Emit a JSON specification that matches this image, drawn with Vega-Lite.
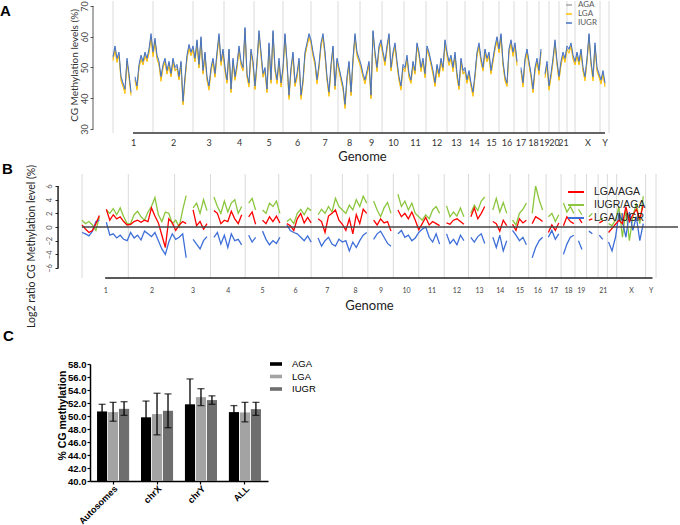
{
"$schema":"https://vega.github.io/schema/vega-lite/v6.json",
"padding":0,
"spacing":41,
"bounds":"flush",
"resolve":{"scale":{"color":"independent"},"legend":{"color":"independent"}},
"config":{"view":{"stroke":null},"axis":{"grid":false,"labelOverlap":false,"tickCount":40},"title":{"font":"Liberation Sans","fontSize":15,"fontWeight":"bold","color":"#000","anchor":"start","frame":"group","offset":0,"baseline":"alphabetic"}},
"datasets":{
"bnd":[{"u":0},{"u":40},{"u":80},{"u":111},{"u":141},{"u":170},{"u":198},{"u":225},{"u":247},{"u":269},{"u":291},{"u":313},{"u":334},{"u":352},{"u":370},{"u":386},{"u":401},{"u":414},{"u":426},{"u":436},{"u":446},{"u":454},{"u":462},{"u":487},{"u":496}],
"a":[
{"p":0,"a":52.9,"l":52.2,"i":53.5},{"p":2,"a":56.1,"l":55.6,"i":57},{"p":4,"a":52.5,"l":51.6,"i":53},{"p":6,"a":54.2,"l":53.9,"i":55},{"p":8,"a":46.5,"l":45.6,"i":47},{"p":10,"a":44.1,"l":43.8,"i":45},{"p":12,"a":42.6,"l":41.5,"i":43},{"p":14,"a":52.1,"l":51.9,"i":53},{"p":16,"a":47.4,"l":46.6,"i":48},{"p":18,"a":41.5,"l":40.9,"i":42},{"p":20,"a":null,"l":null,"i":null},{"p":22,"a":46.2,"l":45.8,"i":47},{"p":24,"a":43.5,"l":42.6,"i":44},{"p":26,"a":50.2,"l":49.9,"i":51},{"p":28,"a":53.4,"l":52.5,"i":54},{"p":30,"a":51.2,"l":50.8,"i":52},{"p":32,"a":54.5,"l":53.6,"i":55},{"p":34,"a":52.1,"l":51.9,"i":53},{"p":36,"a":55.4,"l":54.6,"i":56},{"p":38,"a":60.1,"l":59.7,"i":61},
{"p":40,"a":54.4,"l":53.5,"i":55},{"p":42,"a":58.6,"l":58.3,"i":59.5},{"p":44,"a":53.5,"l":52.6,"i":54},{"p":46,"a":51.1,"l":50.8,"i":52},{"p":48,"a":46.4,"l":45.5,"i":47},{"p":50,"a":50.2,"l":49.8,"i":51},{"p":52,"a":52.5,"l":51.6,"i":53},{"p":54,"a":48.1,"l":47.8,"i":49},{"p":56,"a":51.4,"l":50.6,"i":52},{"p":58,"a":47.2,"l":46.9,"i":48},{"p":60,"a":52.5,"l":51.6,"i":53},{"p":62,"a":49.1,"l":48.8,"i":50},{"p":64,"a":50.4,"l":49.5,"i":51},{"p":66,"a":46.2,"l":45.9,"i":47},{"p":68,"a":51.5,"l":50.6,"i":52},{"p":70,"a":38.3,"l":37.8,"i":39},{"p":72,"a":46.4,"l":45.6,"i":47},{"p":74,"a":53.1,"l":52.8,"i":54},{"p":76,"a":56.9,"l":56.1,"i":57.5},{"p":78,"a":54.2,"l":53.8,"i":55},
{"p":80,"a":56.4,"l":55.6,"i":57},{"p":82,"a":52.2,"l":51.8,"i":53},{"p":84,"a":58.5,"l":57.6,"i":59},{"p":86,"a":50.1,"l":49.8,"i":51},{"p":88,"a":59.4,"l":58.6,"i":60},{"p":90,"a":48.2,"l":47.8,"i":49},{"p":92,"a":54.5,"l":53.6,"i":55},{"p":94,"a":46.1,"l":45.8,"i":47},{"p":96,"a":43.4,"l":42.6,"i":44},{"p":98,"a":49.2,"l":48.8,"i":50},{"p":100,"a":52.5,"l":51.6,"i":53},{"p":102,"a":47.1,"l":46.8,"i":48},{"p":104,"a":54.4,"l":53.6,"i":55},{"p":106,"a":60.2,"l":59.8,"i":61},{"p":108,"a":51.5,"l":50.6,"i":52},{"p":110,"a":55.1,"l":54.8,"i":56},
{"p":112,"a":49.4,"l":48.6,"i":50},{"p":114,"a":45.2,"l":44.8,"i":46},{"p":116,"a":55.5,"l":54.6,"i":56},{"p":118,"a":42.1,"l":41.8,"i":43},{"p":120,"a":52.4,"l":51.6,"i":53},{"p":122,"a":46.2,"l":45.8,"i":47},{"p":124,"a":50.5,"l":49.6,"i":51},{"p":126,"a":56.1,"l":55.8,"i":57},{"p":128,"a":51.4,"l":50.6,"i":52},{"p":130,"a":49.2,"l":48.8,"i":50},{"p":132,"a":62.5,"l":61.6,"i":63},{"p":134,"a":47.1,"l":46.8,"i":48},{"p":136,"a":44.4,"l":43.6,"i":45},{"p":138,"a":55.2,"l":54.8,"i":56},{"p":140,"a":51.5,"l":50.6,"i":52},
{"p":142,"a":43.1,"l":42.8,"i":44},{"p":144,"a":51.4,"l":50.6,"i":52},{"p":146,"a":61.2,"l":60.8,"i":62},{"p":148,"a":54.5,"l":53.6,"i":55},{"p":150,"a":47.1,"l":46.8,"i":48},{"p":152,"a":49.4,"l":48.6,"i":50},{"p":154,"a":42.2,"l":41.8,"i":43},{"p":156,"a":57.5,"l":56.6,"i":58},{"p":158,"a":45.1,"l":44.8,"i":46},{"p":160,"a":61.4,"l":60.6,"i":62},{"p":162,"a":49.2,"l":48.8,"i":50},{"p":164,"a":45.5,"l":44.6,"i":46},{"p":166,"a":52.1,"l":51.8,"i":53},{"p":168,"a":44.4,"l":43.6,"i":45},
{"p":170,"a":49.2,"l":48.8,"i":50},{"p":172,"a":60.5,"l":59.6,"i":61},{"p":174,"a":51.1,"l":50.8,"i":52},{"p":176,"a":40.4,"l":39.6,"i":41},{"p":178,"a":49.2,"l":48.8,"i":50},{"p":180,"a":54.5,"l":53.6,"i":55},{"p":182,"a":44.1,"l":43.8,"i":45},{"p":184,"a":47.4,"l":46.6,"i":48},{"p":186,"a":52.2,"l":51.8,"i":53},{"p":188,"a":40.5,"l":39.6,"i":41},{"p":190,"a":45.1,"l":44.8,"i":46},{"p":192,"a":54.4,"l":53.6,"i":55},{"p":194,"a":57.2,"l":56.8,"i":58},{"p":196,"a":60.5,"l":59.6,"i":61},
{"p":198,"a":58.1,"l":57.8,"i":59},{"p":200,"a":54.4,"l":53.6,"i":55},{"p":202,"a":51.2,"l":50.8,"i":52},{"p":204,"a":45.5,"l":44.6,"i":46},{"p":206,"a":50.1,"l":49.8,"i":51},{"p":208,"a":57.4,"l":56.6,"i":58},{"p":210,"a":60.2,"l":59.8,"i":61},{"p":212,"a":54.5,"l":53.6,"i":55},{"p":214,"a":46.1,"l":45.8,"i":47},{"p":216,"a":41.4,"l":40.6,"i":42},{"p":218,"a":50.2,"l":49.8,"i":51},{"p":220,"a":56.5,"l":55.6,"i":57},{"p":222,"a":43.1,"l":42.8,"i":44},{"p":224,"a":52.4,"l":51.6,"i":53},
{"p":226,"a":49.2,"l":48.8,"i":50},{"p":228,"a":46.5,"l":45.6,"i":47},{"p":230,"a":43.1,"l":42.8,"i":44},{"p":232,"a":37.4,"l":36.6,"i":38},{"p":234,"a":46.2,"l":45.8,"i":47},{"p":236,"a":51.5,"l":50.6,"i":52},{"p":238,"a":41.1,"l":40.8,"i":42},{"p":240,"a":52.4,"l":51.6,"i":53},{"p":242,"a":60.2,"l":59.8,"i":61},{"p":244,"a":54.5,"l":53.6,"i":55},{"p":246,"a":52.1,"l":51.8,"i":53},
{"p":248,"a":50.4,"l":49.6,"i":51},{"p":250,"a":47.2,"l":46.8,"i":48},{"p":252,"a":45.5,"l":44.6,"i":46},{"p":254,"a":48.1,"l":47.8,"i":49},{"p":256,"a":51.4,"l":50.6,"i":52},{"p":258,"a":40.2,"l":39.8,"i":41},{"p":260,"a":61.5,"l":60.6,"i":62},{"p":262,"a":54.1,"l":53.8,"i":55},{"p":264,"a":49.4,"l":48.6,"i":50},{"p":266,"a":56.2,"l":55.8,"i":57},{"p":268,"a":58.5,"l":57.6,"i":59},
{"p":270,"a":54.1,"l":53.8,"i":55},{"p":272,"a":51.4,"l":50.6,"i":52},{"p":274,"a":56.2,"l":55.8,"i":57},{"p":276,"a":60.5,"l":59.6,"i":61},{"p":278,"a":49.1,"l":48.8,"i":50},{"p":280,"a":54.4,"l":53.6,"i":55},{"p":282,"a":57.2,"l":56.8,"i":58},{"p":284,"a":51.5,"l":50.6,"i":52},{"p":286,"a":46.1,"l":45.8,"i":47},{"p":288,"a":43.4,"l":42.6,"i":44},{"p":290,"a":50.2,"l":49.8,"i":51},
{"p":292,"a":49.5,"l":48.6,"i":50},{"p":294,"a":53.1,"l":52.8,"i":54},{"p":296,"a":47.4,"l":46.6,"i":48},{"p":298,"a":45.2,"l":44.8,"i":46},{"p":300,"a":51.5,"l":50.6,"i":52},{"p":302,"a":48.1,"l":47.8,"i":49},{"p":304,"a":57.4,"l":56.6,"i":58},{"p":306,"a":54.2,"l":53.8,"i":55},{"p":308,"a":49.5,"l":48.6,"i":50},{"p":310,"a":52.1,"l":51.8,"i":53},{"p":312,"a":47.4,"l":46.6,"i":48},
{"p":314,"a":56.2,"l":55.8,"i":57},{"p":316,"a":54.5,"l":53.6,"i":55},{"p":318,"a":51.1,"l":50.8,"i":52},{"p":320,"a":48.4,"l":47.6,"i":49},{"p":322,"a":44.2,"l":43.8,"i":45},{"p":324,"a":50.5,"l":49.6,"i":51},{"p":326,"a":47.1,"l":46.8,"i":48},{"p":328,"a":52.4,"l":51.6,"i":53},{"p":330,"a":49.2,"l":48.8,"i":50},{"p":332,"a":58.5,"l":57.6,"i":59},{"p":334,"a":54.1,"l":53.8,"i":55},
{"p":336,"a":51.4,"l":50.6,"i":52},{"p":338,"a":53.2,"l":52.8,"i":54},{"p":340,"a":49.5,"l":48.6,"i":50},{"p":342,"a":54.1,"l":53.8,"i":55},{"p":344,"a":47.4,"l":46.6,"i":48},{"p":346,"a":43.2,"l":42.8,"i":44},{"p":348,"a":52.5,"l":51.6,"i":53},{"p":350,"a":48.1,"l":47.8,"i":49},{"p":352,"a":49.4,"l":48.6,"i":50},
{"p":354,"a":45.2,"l":44.8,"i":46},{"p":356,"a":48.5,"l":47.6,"i":49},{"p":358,"a":44.1,"l":43.8,"i":45},{"p":360,"a":41.4,"l":40.6,"i":42},{"p":362,"a":47.2,"l":46.8,"i":48},{"p":364,"a":54.5,"l":53.6,"i":55},{"p":366,"a":57.1,"l":56.8,"i":58},{"p":368,"a":52.4,"l":51.6,"i":53},{"p":370,"a":49.2,"l":48.8,"i":50},
{"p":372,"a":55.5,"l":54.6,"i":56},{"p":374,"a":52.1,"l":51.8,"i":53},{"p":376,"a":54.4,"l":53.6,"i":55},{"p":378,"a":48.2,"l":47.8,"i":49},{"p":380,"a":52.5,"l":51.6,"i":53},{"p":382,"a":56.1,"l":55.8,"i":57},{"p":384,"a":59.4,"l":58.6,"i":60},{"p":386,"a":55.2,"l":54.8,"i":56},
{"p":388,"a":60.5,"l":59.6,"i":61},{"p":390,"a":51.1,"l":50.8,"i":52},{"p":392,"a":46.4,"l":45.6,"i":47},{"p":394,"a":44.2,"l":43.8,"i":45},{"p":396,"a":55.5,"l":54.6,"i":56},{"p":398,"a":58.1,"l":57.8,"i":59},{"p":400,"a":54.4,"l":53.6,"i":55},
{"p":402,"a":57.2,"l":56.8,"i":58},{"p":404,"a":51.5,"l":50.6,"i":52},{"p":406,"a":null,"l":null,"i":null},{"p":408,"a":49.1,"l":48.8,"i":50},{"p":410,"a":44.4,"l":43.6,"i":45},{"p":412,"a":52.2,"l":51.8,"i":53},{"p":414,"a":55.5,"l":54.6,"i":56},
{"p":416,"a":51.1,"l":50.8,"i":52},{"p":418,"a":47.4,"l":46.6,"i":48},{"p":420,"a":42.2,"l":41.8,"i":43},{"p":422,"a":49.5,"l":48.6,"i":50},{"p":424,"a":52.1,"l":51.8,"i":53},{"p":426,"a":48.4,"l":47.6,"i":49},
{"p":428,"a":55.2,"l":54.8,"i":56},{"p":430,"a":null,"l":null,"i":null},{"p":432,"a":47.5,"l":46.6,"i":48},{"p":434,"a":51.1,"l":50.8,"i":52},{"p":436,"a":43.4,"l":42.6,"i":44},
{"p":438,"a":47.2,"l":46.8,"i":48},{"p":440,"a":52.5,"l":51.6,"i":53},{"p":442,"a":58.1,"l":57.8,"i":59},{"p":444,"a":51.4,"l":50.6,"i":52},{"p":446,"a":46.2,"l":45.8,"i":47},
{"p":448,"a":51.5,"l":50.6,"i":52},{"p":450,"a":54.1,"l":53.8,"i":55},{"p":452,"a":52.4,"l":51.6,"i":53},{"p":454,"a":56.2,"l":55.8,"i":57},
{"p":456,"a":55.5,"l":54.6,"i":56},{"p":458,"a":57.1,"l":56.8,"i":58},{"p":460,"a":53.4,"l":52.6,"i":54},{"p":462,"a":51.2,"l":50.8,"i":52},
{"p":464,"a":54.5,"l":53.6,"i":55},{"p":466,"a":51.1,"l":50.8,"i":52},{"p":468,"a":55.4,"l":54.6,"i":56},{"p":470,"a":49.2,"l":48.8,"i":50},{"p":472,"a":46.5,"l":45.6,"i":47},{"p":474,"a":52.1,"l":51.8,"i":53},{"p":476,"a":60.4,"l":59.6,"i":61},{"p":478,"a":51.2,"l":50.8,"i":52},{"p":480,"a":46.5,"l":45.6,"i":47},{"p":482,"a":57.1,"l":56.8,"i":58},{"p":484,"a":49.4,"l":48.6,"i":50},{"p":486,"a":47.2,"l":46.8,"i":48},
{"p":488,"a":45.5,"l":44.6,"i":46},{"p":490,"a":48.1,"l":47.8,"i":49},{"p":492,"a":44.4,"l":43.6,"i":45}
],
"b":[
{"p":0,"r":0.3,"g":1.0,"b":-0.8},{"p":3,"r":-0.3,"g":0.5,"b":-1.0},{"p":6,"r":-0.8,"g":0.8,"b":-1.3},{"p":9,"r":-0.5,"g":0.3,"b":-0.6},{"p":12,"r":0.5,"g":-0.5,"b":0.8},{"p":15,"r":1.7,"g":1.5,"b":1.0},{"p":18,"r":null,"g":null,"b":null},
{"p":21,"r":2.6,"g":2.5,"b":0.7},{"p":24,"r":1.0,"g":2.0,"b":-1.2},{"p":27,"r":1.8,"g":2.7,"b":-1.0},{"p":30,"r":1.2,"g":1.8,"b":-1.6},{"p":33,"r":1.5,"g":2.8,"b":-1.2},{"p":36,"r":0.8,"g":1.5,"b":-1.8},{"p":39,"r":0.3,"g":0.5,"b":-2.0},
{"p":42,"r":0.4,"g":0.5,"b":-0.8},{"p":45,"r":0.8,"g":1.8,"b":-1.6},{"p":48,"r":1.0,"g":2.3,"b":-1.2},{"p":51,"r":0.7,"g":1.5,"b":-1.9},{"p":54,"r":1.0,"g":1.0,"b":-0.6},{"p":57,"r":0.8,"g":2.2,"b":-1.0},{"p":60,"r":2.8,"g":3.0,"b":-1.4},{"p":63,"r":1.6,"g":4.3,"b":-0.8},{"p":66,"r":0.6,"g":1.8,"b":-2.0},{"p":69,"r":-1.2,"g":0.8,"b":-3.2},{"p":72,"r":-3.0,"g":2.2,"b":-4.0},{"p":75,"r":1.2,"g":2.0,"b":-2.2},{"p":78,"r":0.6,"g":0.5,"b":-1.0},
{"p":81,"r":-0.5,"g":1.0,"b":-1.8},{"p":84,"r":0.3,"g":0.0,"b":-1.5},{"p":87,"r":0.8,"g":2.5,"b":-1.0},{"p":90,"r":0.5,"g":4.6,"b":-4.5},{"p":93,"r":null,"g":null,"b":null},{"p":96,"r":2.5,"g":2.8,"b":-1.8},{"p":99,"r":0.2,"g":3.5,"b":-2.5},{"p":102,"r":0.8,"g":2.0,"b":-3.2},{"p":105,"r":-0.3,"g":4.0,"b":-2.0},{"p":108,"r":0.5,"g":2.4,"b":-1.4},{"p":111,"r":null,"g":null,"b":null},
{"p":114,"r":2.4,"g":4.4,"b":-1.5},{"p":117,"r":2.0,"g":3.0,"b":-0.8},{"p":120,"r":0.5,"g":2.0,"b":-2.5},{"p":123,"r":1.0,"g":3.8,"b":-1.2},{"p":126,"r":0.8,"g":2.2,"b":-3.0},{"p":129,"r":2.3,"g":3.5,"b":-1.0},{"p":132,"r":1.2,"g":4.0,"b":-2.0},{"p":135,"r":0.5,"g":2.0,"b":-1.8},{"p":138,"r":1.8,"g":3.0,"b":-2.6},{"p":141,"r":null,"g":null,"b":null},
{"p":144,"r":1.5,"g":3.5,"b":-1.2},{"p":147,"r":2.2,"g":4.2,"b":-2.2},{"p":150,"r":0.4,"g":2.5,"b":-1.5},{"p":153,"r":null,"g":null,"b":null},{"p":156,"r":1.0,"g":2.5,"b":-0.6},{"p":159,"r":0.5,"g":2.0,"b":-1.8},{"p":162,"r":1.5,"g":3.5,"b":-2.6},{"p":165,"r":0.8,"g":3.0,"b":-2.0},{"p":168,"r":1.6,"g":3.8,"b":-2.4},{"p":171,"r":0.6,"g":2.0,"b":-1.5},{"p":174,"r":null,"g":null,"b":null},
{"p":177,"r":0.5,"g":0.8,"b":0.3},{"p":180,"r":0.2,"g":1.2,"b":-0.5},{"p":183,"r":-0.5,"g":0.5,"b":-0.8},{"p":186,"r":1.2,"g":2.0,"b":-1.0},{"p":189,"r":2.0,"g":2.6,"b":-1.5},{"p":192,"r":0.6,"g":1.8,"b":-2.0},{"p":195,"r":1.4,"g":2.8,"b":-1.3},{"p":198,"r":0.6,"g":2.4,"b":-2.2},{"p":201,"r":null,"g":null,"b":null},
{"p":204,"r":1.2,"g":1.8,"b":-1.6},{"p":207,"r":0.8,"g":2.6,"b":-2.8},{"p":210,"r":-0.8,"g":2.0,"b":-2.0},{"p":213,"r":1.6,"g":3.0,"b":-1.5},{"p":216,"r":2.0,"g":2.2,"b":-2.5},{"p":219,"r":2.5,"g":4.2,"b":-2.8},{"p":222,"r":1.0,"g":3.0,"b":-1.8},{"p":225,"r":0.4,"g":2.5,"b":-2.2},
{"p":228,"r":-0.5,"g":2.0,"b":-2.0},{"p":231,"r":1.2,"g":3.2,"b":-3.5},{"p":234,"r":-1.0,"g":2.5,"b":-2.2},{"p":237,"r":1.8,"g":4.0,"b":-3.0},{"p":240,"r":0.5,"g":3.0,"b":-2.0},{"p":243,"r":2.6,"g":4.5,"b":-1.2},{"p":246,"r":2.0,"g":3.5,"b":-0.8},{"p":249,"r":null,"g":null,"b":null},
{"p":252,"r":1.0,"g":3.8,"b":-1.8},{"p":255,"r":0.3,"g":2.5,"b":-1.0},{"p":258,"r":1.2,"g":1.5,"b":-0.6},{"p":261,"r":0.6,"g":2.8,"b":-1.5},{"p":264,"r":0.8,"g":3.6,"b":-2.4},{"p":267,"r":-0.6,"g":2.0,"b":-2.8},{"p":270,"r":null,"g":null,"b":null},
{"p":273,"r":2.5,"g":4.8,"b":-1.0},{"p":276,"r":1.5,"g":3.0,"b":-0.5},{"p":279,"r":2.0,"g":3.8,"b":-1.5},{"p":282,"r":1.2,"g":2.5,"b":-1.2},{"p":285,"r":2.2,"g":3.5,"b":-2.0},{"p":288,"r":1.0,"g":2.0,"b":-1.6},{"p":291,"r":-0.4,"g":1.5,"b":-0.8},
{"p":294,"r":0.5,"g":1.0,"b":-0.3},{"p":297,"r":1.4,"g":1.8,"b":0.0},{"p":300,"r":0.3,"g":1.2,"b":-1.5},{"p":303,"r":0.8,"g":2.5,"b":-2.2},{"p":306,"r":0.5,"g":3.0,"b":-1.0},{"p":309,"r":0.2,"g":2.0,"b":-2.5},{"p":312,"r":null,"g":null,"b":null},
{"p":315,"r":0.6,"g":3.1,"b":-1.0},{"p":318,"r":0.4,"g":1.5,"b":-2.4},{"p":321,"r":1.0,"g":2.2,"b":-1.8},{"p":324,"r":1.2,"g":1.6,"b":-2.6},{"p":327,"r":0.8,"g":2.8,"b":-1.2},{"p":330,"r":0.4,"g":1.5,"b":-2.0},{"p":333,"r":null,"g":null,"b":null},
{"p":336,"r":1.5,"g":2.0,"b":-1.5},{"p":339,"r":2.8,"g":3.2,"b":-2.2},{"p":342,"r":1.2,"g":2.4,"b":-1.4},{"p":345,"r":2.0,"g":3.8,"b":-1.0},{"p":348,"r":3.0,"g":4.4,"b":-2.4},{"p":351,"r":null,"g":null,"b":null},
{"p":355,"r":0.8,"g":2.5,"b":-1.5},{"p":358,"r":0.5,"g":4.2,"b":-3.0},{"p":361,"r":-0.6,"g":2.2,"b":-1.2},{"p":364,"r":1.0,"g":3.6,"b":-3.5},{"p":367,"r":0.2,"g":2.0,"b":-2.0},{"p":370,"r":null,"g":null,"b":null},
{"p":372,"r":0.4,"g":1.0,"b":-0.5},{"p":375,"r":-0.5,"g":0.3,"b":-1.2},{"p":378,"r":1.2,"g":2.0,"b":-2.0},{"p":381,"r":0.6,"g":2.6,"b":-1.5},{"p":384,"r":1.0,"g":3.5,"b":-2.6},{"p":387,"r":null,"g":null,"b":null},
{"p":389,"r":0.5,"g":2.0,"b":-4.5},{"p":392,"r":1.5,"g":6.0,"b":-3.0},{"p":395,"r":1.2,"g":4.0,"b":-2.0},{"p":398,"r":0.8,"g":2.5,"b":-1.5},{"p":401,"r":null,"g":null,"b":null},
{"p":403,"r":-0.8,"g":1.5,"b":-1.5},{"p":406,"r":0.3,"g":2.0,"b":-0.5},{"p":409,"r":-0.5,"g":0.8,"b":-1.8},{"p":412,"r":0.6,"g":1.8,"b":-1.0},{"p":414,"r":null,"g":null,"b":null},
{"p":416,"r":0.2,"g":3.5,"b":-4.0},{"p":419,"r":1.5,"g":2.2,"b":-2.5},{"p":422,"r":0.8,"g":3.0,"b":-1.5},{"p":425,"r":0.5,"g":2.0,"b":-1.2},{"p":427,"r":null,"g":null,"b":null},
{"p":429,"r":1.4,"g":2.6,"b":-2.0},{"p":432,"r":0.6,"g":1.8,"b":-3.3},{"p":435,"r":null,"g":null,"b":null},
{"p":438,"r":1.0,"g":1.5,"b":-0.6},{"p":441,"r":1.2,"g":2.0,"b":-1.0},{"p":444,"r":null,"g":null,"b":null},
{"p":447,"r":0.6,"g":1.0,"b":-1.2},{"p":450,"r":0.9,"g":1.3,"b":-1.8},{"p":453,"r":null,"g":null,"b":null},
{"p":455,"r":-0.8,"g":0.5,"b":-2.2},{"p":458,"r":-0.2,"g":0.2,"b":-3.5},{"p":461,"r":0.4,"g":1.0,"b":-1.5},
{"p":464,"r":1.0,"g":3.0,"b":2.0},{"p":467,"r":0.5,"g":-1.5,"b":0.8},{"p":470,"r":3.0,"g":2.5,"b":-1.5},{"p":473,"r":0.8,"g":-2.0,"b":2.2},{"p":476,"r":1.8,"g":1.5,"b":-0.5},{"p":479,"r":2.6,"g":3.5,"b":1.5},{"p":482,"r":1.2,"g":0.5,"b":-2.0},{"p":485,"r":3.2,"g":4.5,"b":0.5}
],
"c":[
{"region":"Autosomes","grp":"AGA","mean":50.7,"lo":49.6,"hi":51.8},
{"region":"Autosomes","grp":"LGA","mean":50.6,"lo":49.2,"hi":52.1},
{"region":"Autosomes","grp":"IUGR","mean":51.1,"lo":50.1,"hi":52.2},
{"region":"chrX","grp":"AGA","mean":49.8,"lo":47.3,"hi":52.3},
{"region":"chrX","grp":"LGA","mean":50.3,"lo":47.1,"hi":53.5},
{"region":"chrX","grp":"IUGR","mean":50.8,"lo":48.2,"hi":53.4},
{"region":"chrY","grp":"AGA","mean":51.8,"lo":47.9,"hi":55.7},
{"region":"chrY","grp":"LGA","mean":52.9,"lo":51.6,"hi":54.2},
{"region":"chrY","grp":"IUGR","mean":52.45,"lo":51.8,"hi":53.1},
{"region":"ALL","grp":"AGA","mean":50.6,"lo":49.6,"hi":51.6},
{"region":"ALL","grp":"LGA","mean":50.55,"lo":49.1,"hi":52.1},
{"region":"ALL","grp":"IUGR","mean":51.05,"lo":50.1,"hi":52.1}
]
},
"vconcat":[
{
"width":519,"height":132,
"title":{"text":"A","dx":-90,"dy":22.5},
"layer":[
{"data":{"name":"bnd"},"mark":{"type":"rule","color":"#dadada","strokeWidth":1},
 "encoding":{"x":{"field":"u","type":"quantitative","scale":{"domain":[-23,496],"nice":false,"zero":false},
  "axis":{"title":"Genome","titleX":272,"tickCount":40,"values":[20,60,95.5,126,155.5,184,211.5,236,258,280,302,323.5,343,361,378,393.5,407.5,420,431,441,450,474.5,491.5],
   "labelExpr":"['1','2','3','4','5','6','7','8','9','10','11','12','13','14','15','16','17','18','19','20','21','X','Y'][indexof([20,60,95.5,126,155.5,184,211.5,236,258,280,302,323.5,343,361,378,393.5,407.5,420,431,441,450,474.5,491.5], datum.value)]",
   "domain":false,"ticks":false,"labelPadding":5,"labelFont":"Lato","labelFontSize":9,"labelColor":"#333","labelOverlap":false,"labelFlush":false,
   "titleFont":"Lato","titleFontSize":13,"titleFontWeight":"normal","titleColor":"#222","titlePadding":3}}}},
{"data":{"name":"a"},"mark":{"type":"line","strokeWidth":1},
 "encoding":{"x":{"field":"p","type":"quantitative","title":"Genome","axis":{"tickCount":40}},
  "y":{"field":"a","type":"quantitative","title":"CG Methylation levels (%)","scale":{"domain":[28.7,71.6],"nice":false,"zero":false},
   "axis":{"values":[30,40,50,60,70],"format":"d","tickCount":40,"domain":false,"offset":-3,"tickSize":3,"tickColor":"#555","labelAngle":-90,"labelPadding":1,"labelFont":"Lato","labelFontSize":9,"labelColor":"#444","labelOverlap":false,
    "titleFont":"Lato","titleFontSize":10,"titleFontWeight":"normal","titleColor":"#333","titleX":-14,"titleY":64}},
  "color":{"datum":"AGA","scale":{"domain":["AGA","LGA","IUGR"],"range":["#a5a5a5","#ffc000","#4472c4"]},
   "legend":{"orient":"none","legendX":475,"legendY":0,"title":null,"symbolType":"stroke","symbolSize":36,"symbolStrokeWidth":1.5,"labelFont":"Lato","labelFontSize":8,"labelColor":"#595959","rowPadding":1,"labelOffset":5}}}},
{"data":{"name":"a"},"mark":{"type":"line","strokeWidth":1},
 "encoding":{"x":{"field":"p","type":"quantitative","title":"Genome"},"y":{"field":"l","type":"quantitative","title":"CG Methylation levels (%)"},"color":{"datum":"LGA"}}},
{"data":{"name":"a"},"mark":{"type":"line","strokeWidth":1},
 "encoding":{"x":{"field":"p","type":"quantitative","title":"Genome"},"y":{"field":"i","type":"quantitative","title":"CG Methylation levels (%)"},"color":{"datum":"IUGR"}}},
{"data":{"values":[{}]},"mark":{"type":"rule","color":"#595959","strokeWidth":1},
 "encoding":{"x":{"datum":-20},"y":{"datum":30},"y2":{"datum":70}}},
{"data":{"values":[{}]},"mark":{"type":"rule","color":"#333","strokeWidth":1.5},
 "encoding":{"x":{"datum":20},"x2":{"datum":492},"y":{"datum":28.7}}}
]
},
{
"width":566,"height":104,
"title":{"text":"B","dx":-88,"dy":16},
"layer":[
{"data":{"name":"bnd"},"mark":{"type":"rule","color":"#dadada","strokeWidth":1},
 "encoding":{"x":{"field":"u","type":"quantitative","scale":{"domain":[6.9,496],"nice":false,"zero":false},
  "axis":{"title":"Genome","titleX":279,"tickCount":40,"values":[20,60,95.5,126,155.5,184,211.5,236,258,280,302,323.5,343,361,378,393.5,407.5,420,431,450,474.5,491.5],
   "labelExpr":"['1','2','3','4','5','6','7','8','9','10','11','12','13','14','15','16','17','18','19','21','X','Y'][indexof([20,60,95.5,126,155.5,184,211.5,236,258,280,302,323.5,343,361,378,393.5,407.5,420,431,450,474.5,491.5], datum.value)]",
   "domain":false,"ticks":false,"labelPadding":8,"labelFont":"Lato","labelFontSize":7,"labelColor":"#444","labelOverlap":false,"labelFlush":false,
   "titleFont":"Lato","titleFontSize":13,"titleFontWeight":"normal","titleColor":"#222","titlePadding":6}}}},
{"data":{"name":"b"},"mark":{"type":"line","strokeWidth":1.3},
 "encoding":{"x":{"field":"p","type":"quantitative","title":"Genome","axis":{"tickCount":40}},
  "y":{"field":"g","type":"quantitative","title":"Log2 ratio CG Methylation level (%)","scale":{"domain":[-7.46,7.76],"nice":false,"zero":false},
   "axis":{"values":[-6,-4,-2,0,2,4,6],"format":"d","tickCount":40,"domain":false,"offset":32,"tickSize":3,"tickColor":"#222","labelAngle":-90,"labelPadding":1.5,"labelFont":"Lato","labelFontSize":7.5,"labelColor":"#555","labelOverlap":false,
    "titleFont":"Lato","titleFontSize":10.5,"titleFontWeight":"normal","titleColor":"#222","titleX":-21.5,"titleY":72}},
  "color":{"datum":"IUGR/AGA","scale":{"domain":["LGA/AGA","IUGR/AGA","LGA/IUGR"],"range":["#ff0000","#8cc63e","#3e6fd9"]},
   "legend":{"orient":"none","legendX":480,"legendY":12,"title":null,"symbolType":"M-1.6,0H1.6","symbolSize":100,"symbolStrokeWidth":2,"labelFont":"Liberation Sans","labelFontSize":10.5,"labelColor":"#222","rowPadding":1,"labelOffset":12}}}},
{"data":{"name":"b"},"mark":{"type":"line","strokeWidth":1.3},
 "encoding":{"x":{"field":"p","type":"quantitative","title":"Genome"},"y":{"field":"b","type":"quantitative","title":"Log2 ratio CG Methylation level (%)"},"color":{"datum":"LGA/IUGR"}}},
{"data":{"name":"b"},"mark":{"type":"line","strokeWidth":1.3},
 "encoding":{"x":{"field":"p","type":"quantitative","title":"Genome"},"y":{"field":"r","type":"quantitative","title":"Log2 ratio CG Methylation level (%)"},"color":{"datum":"LGA/AGA"}}},
{"data":{"values":[{}]},"mark":{"type":"rule","color":"#444","strokeWidth":1.5},
 "encoding":{"x":{"datum":0},"x2":{"datum":515},"y":{"datum":0}}},
{"data":{"values":[{}]},"mark":{"type":"rule","color":"#222","strokeWidth":1.5},
 "encoding":{"x":{"datum":-20.7},"y":{"datum":-6},"y2":{"datum":6}}},
{"data":{"values":[{}]},"mark":{"type":"rule","color":"#222","strokeWidth":1.5},
 "encoding":{"x":{"datum":20},"x2":{"datum":493},"y":{"datum":-7.46}}}
]
},
{"width":10,"height":4,"data":{"values":[]},"mark":"point"},
{
"width":178,"height":117,
"title":{"text":"C","dx":-87,"dy":-10},
"data":{"name":"c"},
"encoding":{
 "x":{"field":"region","type":"nominal","sort":["Autosomes","chrX","chrY","ALL"],"scale":{"paddingInner":0.27,"paddingOuter":0.16},
  "axis":{"title":null,"labelAngle":-45,"labelFont":"Liberation Sans","labelFontSize":9.2,"labelFontWeight":"bold","labelColor":"#000","labelPadding":0,"domainColor":"#000","domainWidth":1.5,"tickColor":"#000","tickSize":3,"tickWidth":1.2}},
 "xOffset":{"field":"grp","type":"nominal","sort":["AGA","LGA","IUGR"],"scale":{"paddingInner":0.08}}
},
"layer":[
{"mark":{"type":"bar"},
 "encoding":{"y":{"field":"mean","type":"quantitative","title":"% CG methylation","scale":{"domain":[40,58],"nice":false,"zero":false},
   "axis":{"values":[40,42,44,46,48,50,52,54,56,58],"tickCount":40,"format":".1f","domainColor":"#000","domainWidth":1.5,"tickColor":"#000","tickSize":3,"tickWidth":1.2,"labelPadding":1,"labelOverlap":false,
    "labelFont":"Liberation Sans","labelFontSize":9.5,"labelFontWeight":"bold","labelColor":"#000",
    "titleFont":"Liberation Sans","titleFontSize":10.5,"titleFontWeight":"bold","titleColor":"#000","titleX":-22.5,"titleY":51}},
  "y2":{"datum":40},
  "color":{"field":"grp","type":"nominal","sort":["AGA","LGA","IUGR"],"scale":{"domain":["AGA","LGA","IUGR"],"range":["#000000","#a3a3a3","#6e6e6e"]},
   "legend":{"orient":"none","legendX":180,"legendY":-6,"title":null,"symbolType":"M-1,-0.3H1V0.3H-1Z","symbolSize":144,"symbolStrokeWidth":0,"labelFont":"Liberation Sans","labelFontSize":9.5,"labelColor":"#000","rowPadding":1.5,"labelOffset":10}}}},
{"mark":{"type":"rule","color":"#000","strokeWidth":1.3},
 "encoding":{"y":{"field":"lo","type":"quantitative","title":"% CG methylation","axis":{"tickCount":40}},"y2":{"field":"hi"}}},
{"mark":{"type":"tick","color":"#000","thickness":1.3,"size":7,"orient":"horizontal"},
 "encoding":{"y":{"field":"lo","type":"quantitative","title":"% CG methylation","axis":{"tickCount":40}}}},
{"mark":{"type":"tick","color":"#000","thickness":1.3,"size":7,"orient":"horizontal"},
 "encoding":{"y":{"field":"hi","type":"quantitative","title":"% CG methylation","axis":{"tickCount":40}}}}
]
}
]
}
